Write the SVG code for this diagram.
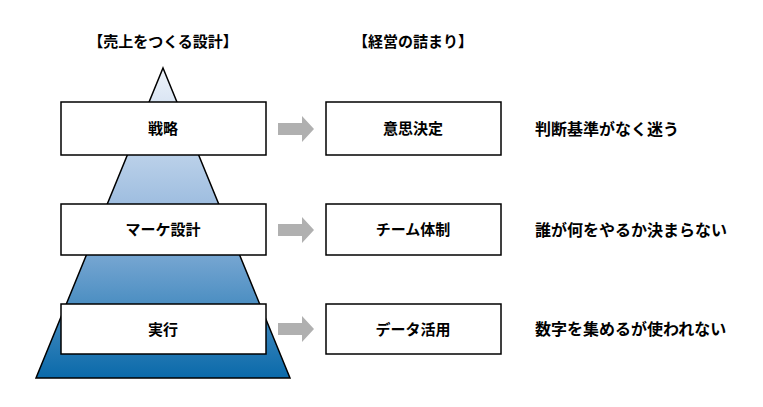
<svg xmlns="http://www.w3.org/2000/svg" width="763" height="407" viewBox="0 0 763 407">
<defs>
<linearGradient id="g" x1="0" y1="0" x2="0" y2="1"><stop offset="0" stop-color="#eef3fa"/><stop offset="0.5" stop-color="#93b6dc"/><stop offset="1" stop-color="#0a6aaa"/></linearGradient>
<style>
.b{fill:#fff;stroke:#000;stroke-width:1.5}
text{font-family:"Noto Sans CJK JP",sans-serif;font-weight:bold;font-size:15px;fill:#000}
.c{text-anchor:middle}
.r{font-size:16px}
.a{fill:#b0b0b0}
</style>
</defs>
<rect width="763" height="407" fill="#fff"/>
<text class="c" x="163" y="47">【売上をつくる設計】</text>
<text class="c" x="413" y="47">【経営の詰まり】</text>
<polygon points="163,68 290,378 36,378" fill="url(#g)" stroke="#000" stroke-width="1.5"/>
<g id="n1"><rect class="b" x="61" y="102" width="205" height="53"/><text class="c" x="163" y="134">戦略</text></g>
<g id="n2"><rect class="b" x="61" y="204" width="205" height="51"/><text class="c" x="163" y="235">マーケ設計</text></g>
<g id="n3"><rect class="b" x="61" y="304" width="205" height="50"/><text class="c" x="163" y="335">実行</text></g>
<g id="connectors">
<polygon class="a" points="278,123 302,123 302,116 314,129 302,142 302,135 278,135"/>
<polygon class="a" points="278,224 302,224 302,217 314,230 302,243 302,236 278,236"/>
<polygon class="a" points="278,323 302,323 302,316 314,329 302,342 302,335 278,335"/>
</g>
<g id="r1"><rect class="b" x="326" y="102" width="175" height="53"/><text class="c" x="413" y="134">意思決定</text></g>
<g id="r2"><rect class="b" x="326" y="204" width="175" height="51"/><text class="c" x="413" y="235">チーム体制</text></g>
<g id="r3"><rect class="b" x="326" y="304" width="175" height="50"/><text class="c" x="413" y="335">データ活用</text></g>
<text class="r" x="535" y="135">判断基準がなく迷う</text>
<text class="r" x="535" y="236">誰が何をやるか決まらない</text>
<text class="r" x="535" y="335">数字を集めるが使われない</text>
</svg>
